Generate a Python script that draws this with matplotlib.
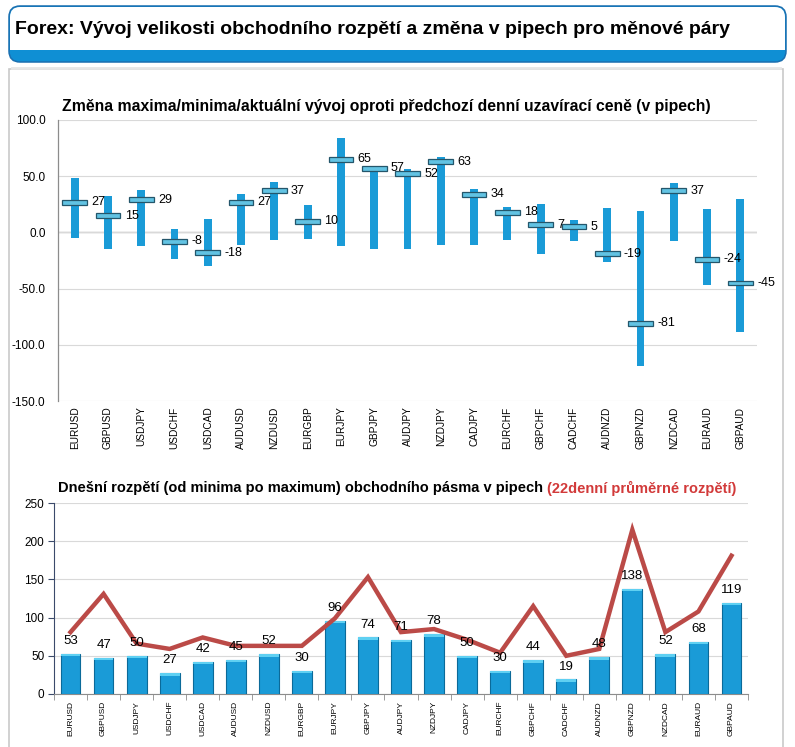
import numpy as np
import matplotlib
matplotlib.use("Agg")
import matplotlib.pyplot as plt
from matplotlib.patches import FancyBboxPatch, Rectangle

plt.rcParams.update({
    "font.family": ["Liberation Sans", "DejaVu Sans"],
})

# --- Data -----------------------------------------------------------------------------------
pairs = ["EURUSD", "GBPUSD", "USDJPY", "USDCHF", "USDCAD", "AUDUSD", "NZDUSD", "EURGBP",
         "EURJPY", "GBPJPY", "AUDJPY", "NZDJPY", "CADJPY", "EURCHF", "GBPCHF", "CADCHF",
         "AUDNZD", "GBPNZD", "NZDCAD", "EURAUD", "GBPAUD"]

# change vs previous daily close (pips)
day_high = [48, 32, 38, 3, 12, 34, 45, 24, 84, 59, 56, 67, 39, 23, 25, 11, 22, 19, 44, 21, 30]
day_low = [-5, -15, -12, -24, -30, -11, -7, -6, -12, -15, -15, -11, -11, -7, -19, -8, -26,
           -119, -8, -47, -89]
current = [27, 15, 29, -8, -18, 27, 37, 10, 65, 57, 52, 63, 34, 18, 7, 5, -19, -81, 37, -24, -45]

# today's range and 22-day average range (pips)
today_range = [53, 47, 50, 27, 42, 45, 52, 30, 96, 74, 71, 78, 50, 30, 44, 19, 48, 138, 52, 68, 119]
avg_range_22 = [81, 131, 66, 59, 74, 63, 63, 63, 99, 153, 81, 85, 71, 54, 115, 50, 59, 215, 81,
                108, 181]

W, H = 795, 747
BLUE = "#1a9bd7"


def px_axes(fig, x0, y0, x1, y1):
    # axes from pixel box (top-left origin)
    return fig.add_axes([x0 / W, 1 - y1 / H, (x1 - x0) / W, (y1 - y0) / H])


fig = plt.figure(figsize=(W / 100, H / 100), dpi=100)

# --- Background: header box and panel ---
bg = fig.add_axes([0, 0, 1, 1])
bg.set_xlim(0, W)
bg.set_ylim(H, 0)
bg.axis("off")

bg.add_patch(FancyBboxPatch((9, 6), 777, 56, boxstyle="round,pad=0,rounding_size=11",
                            facecolor="#0f8fd4", edgecolor="#1a6fb0", lw=1.1))
bg.add_patch(FancyBboxPatch((10, 7), 775, 40, boxstyle="round,pad=0,rounding_size=10",
                            facecolor="white", edgecolor="none"))
bg.add_patch(Rectangle((10, 25), 775, 25, facecolor="white", edgecolor="none"))
bg.text(15, 30, "Forex: Vývoj velikosti obchodního rozpětí a změna v pipech pro měnové páry",
        fontsize=14, fontweight="bold", va="center", ha="left", color="black")

bg.add_patch(Rectangle((9, 69), 774, 690, facecolor="white", edgecolor="#c9c9c9", lw=1.2))
bg.plot([12, 780], [68, 68], color="#e6e6e6", lw=2)

x = np.arange(len(pairs))

# --- Top chart: high/low range with current value marker ---
ax1 = px_axes(fig, 58, 120, 757, 401)
lo = np.array(day_low)
hi = np.array(day_high)
ax1.bar(x, hi - lo, bottom=lo, width=0.24, color=BLUE, zorder=3)
cur = np.array(current)
ax1.bar(x, 4.4, bottom=cur - 2.2, width=0.74, color="#62c3e3", edgecolor="#24566b",
        lw=0.9, zorder=4)
for xi, v in zip(x, current):
    ax1.text(xi + 0.5, v, str(v), fontsize=9, va="center", ha="left", zorder=5)

ax1.set_xlim(-0.5, len(pairs) - 0.5)
ax1.set_ylim(-150, 100)
ax1.set_yticks(np.arange(-150, 101, 50))
ax1.set_yticklabels([f"{v:.1f}" for v in np.arange(-150, 101, 50)], fontsize=8.5)
ax1.set_xticks(x)
ax1.set_xticklabels(pairs, rotation=90, fontsize=7.3)
ax1.tick_params(axis="x", length=0, pad=4)
ax1.tick_params(axis="y", length=0, pad=9)
ax1.grid(axis="y", color="#d9d9d9", lw=0.8, zorder=0)
ax1.axhline(0, color="#8c8c8c", lw=0.9, zorder=1)
for s in ["top", "right", "bottom"]:
    ax1.spines[s].set_visible(False)
ax1.spines["left"].set_color("#8c8c8c")
ax1.spines["left"].set_linewidth(0.9)

fig.text(62 / W, 1 - 107 / H,
         "Změna maxima/minima/aktuální vývoj oproti předchozí denní uzavírací ceně (v pipech)",
         fontsize=11.3, fontweight="bold", va="center", ha="left")

# --- Bottom chart: today's range vs 22-day average ---
ax2 = px_axes(fig, 54, 503, 748, 694)
ax2.bar(x, today_range, width=0.6, color=BLUE, edgecolor="#0b6a99", lw=0.8, zorder=3)
ax2.bar(x, 3, bottom=np.array(today_range) - 3, width=0.6, color="#5fd0f2", lw=0, zorder=3)
for xi, v in zip(x, today_range):
    ax2.annotate(str(v), (xi, v), xytext=(0, 5), textcoords="offset points",
                 ha="center", va="bottom", fontsize=9.5, zorder=6)
ax2.plot(x, avg_range_22, color="#bb4a47", lw=3.2, zorder=5, solid_joinstyle="miter")

ax2.set_xlim(-0.5, len(pairs) - 0.5)
ax2.set_ylim(0, 250)
ax2.set_yticks(np.arange(0, 251, 50))
ax2.tick_params(axis="y", labelsize=8.5, length=4, color="#3b4a6b", pad=3)
ax2.set_xticks(x)
ax2.set_xticklabels(pairs, rotation=90, fontsize=6)
ax2.set_xticks(np.arange(-0.5, len(pairs), 1), minor=True)
ax2.tick_params(axis="x", which="major", length=0, pad=5)
ax2.tick_params(axis="x", which="minor", length=4, color="#8c8c8c")
ax2.grid(axis="y", color="#d9d9d9", lw=0.8, zorder=0)
for s in ["top", "right"]:
    ax2.spines[s].set_visible(False)
ax2.spines["left"].set_color("#3b4a6b")
ax2.spines["bottom"].set_color("#8c8c8c")

t1 = fig.text(58 / W, 1 - 488 / H,
              "Dnešní rozpětí (od minima po maximum) obchodního pásma v pipech ",
              fontsize=10.5, fontweight="bold", va="center", ha="left")
fig.canvas.draw()
bb = t1.get_window_extent()
fig.text(bb.x1 / (W), 1 - 488 / H, "(22denní průměrné rozpětí)", fontsize=10.5,
         fontweight="bold", va="center", ha="left", color="#d23a3a")

fig.savefig("out.png", dpi=100)
